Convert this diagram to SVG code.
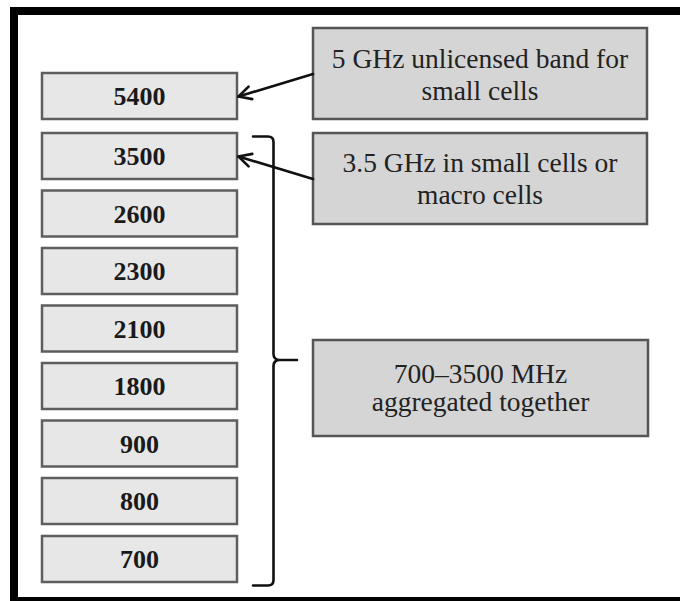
<svg xmlns="http://www.w3.org/2000/svg" width="680" height="601" viewBox="0 0 680 601">
<style>
.band{fill:#e7e7e7;stroke:#5e5e5e;stroke-width:2.5}
.note{fill:#d5d5d5;stroke:#555;stroke-width:2.5}
.num{font-family:"Liberation Serif","Times New Roman",serif;font-weight:bold;font-size:26px;fill:#1a1a1a;text-anchor:middle}
.lbl{font-family:"Liberation Serif","Times New Roman",serif;font-size:27.5px;fill:#222;text-anchor:middle}
.conn{fill:none;stroke:#111;stroke-width:2.6;stroke-linecap:round;stroke-linejoin:round}
</style>
<defs>
<marker id="open" viewBox="0 0 16 16" refX="14.5" refY="8" markerWidth="16" markerHeight="16" markerUnits="userSpaceOnUse" orient="auto">
<path d="M2,1.5 L14.5,8 L2,14.5" fill="none" stroke="#111" stroke-width="2.6" stroke-linecap="round" stroke-linejoin="round"/>
</marker>
</defs>
<rect x="0" y="0" width="680" height="601" fill="#fff"/>
<rect x="14" y="11" width="680" height="590" fill="none" stroke="#000" stroke-width="8"/>

<g id="b5400"><rect class="band" x="42" y="73" width="195" height="46"/><text class="num" x="139.5" y="105">5400</text></g>
<g id="b3500"><rect class="band" x="42" y="133" width="195" height="46"/><text class="num" x="139.5" y="165">3500</text></g>
<g id="b2600"><rect class="band" x="42" y="190.5" width="195" height="46"/><text class="num" x="139.5" y="222.5">2600</text></g>
<g id="b2300"><rect class="band" x="42" y="248" width="195" height="46"/><text class="num" x="139.5" y="280">2300</text></g>
<g id="b2100"><rect class="band" x="42" y="305.5" width="195" height="46"/><text class="num" x="139.5" y="337.5">2100</text></g>
<g id="b1800"><rect class="band" x="42" y="363" width="195" height="46"/><text class="num" x="139.5" y="395">1800</text></g>
<g id="b900"><rect class="band" x="42" y="420.5" width="195" height="46"/><text class="num" x="139.5" y="452.5">900</text></g>
<g id="b800"><rect class="band" x="42" y="478" width="195" height="46"/><text class="num" x="139.5" y="510">800</text></g>
<g id="b700"><rect class="band" x="42" y="536" width="195" height="46"/><text class="num" x="139.5" y="568">700</text></g>

<g id="n5ghz"><rect class="note" x="313" y="28" width="334" height="91"/>
<text class="lbl" x="480" y="67.5">5 GHz unlicensed band for</text>
<text class="lbl" x="480" y="99.5">small cells</text></g>
<g id="n35ghz"><rect class="note" x="313" y="133" width="334" height="91"/>
<text class="lbl" x="480" y="172">3.5 GHz in small cells or</text>
<text class="lbl" x="480" y="204">macro cells</text></g>
<g id="nagg"><rect class="note" x="313" y="340" width="335" height="96"/>
<text class="lbl" x="480.5" y="383">700–3500 MHz</text>
<text class="lbl" x="480.5" y="411">aggregated together</text></g>

<g id="connectors">
<path class="conn" d="M313,74 L238.5,96.5" marker-end="url(#open)"/>
<path class="conn" d="M313,179 L238.5,156.5" marker-end="url(#open)"/>
<path class="conn" d="M253,136.5 H268 Q273.5,136.5 273.5,142 V354 Q273.5,360 280,360 H297 M280,360 Q273.5,360 273.5,366 V580 Q273.5,585.5 268,585.5 H253"/>
</g>
</svg>
